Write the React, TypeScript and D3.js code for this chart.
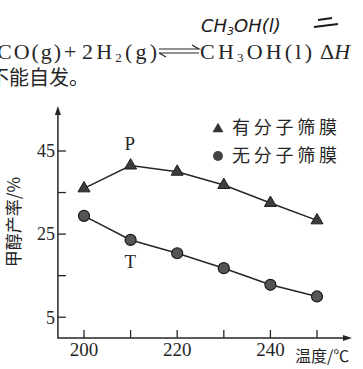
import React from "react";
import * as d3 from "d3";

// 温度 (℃) 与甲醇产率 (%)
const temps = [200, 210, 220, 230, 240, 250];
const withMembrane = [36, 41.5, 40, 36.8, 32.5, 28.3];
const withoutMembrane = [29.4, 23.6, 20.4, 16.8, 12.8, 10];

const yTicks = [5, 15, 25, 35, 45];
const yTickLabels = ["5", "", "25", "", "45"];
const xTickLabels = ["200", "", "220", "", "240", ""];

const legendNames = ["有分子筛膜", "无分子筛膜"];
const yTitle = "甲醇产率/%";
const xTitle = "温度/℃";

const ink = "#262626";
const serif = "'Liberation Serif', 'DejaVu Serif', serif";
const cjk = "'Noto Sans CJK SC', sans-serif";

const App = () => {
  const width = 363;
  const height = 369;

  const x = d3.scaleLinear().domain([200, 250]).range([84, 317]);
  const y = d3.scaleLinear().domain([0, 45]).range([338, 151]);

  const x0 = x(194.4);
  const xEnd = 346;
  const y0 = y(0);
  const yTop = 112;

  const line = d3
    .line<number>()
    .x((_, i) => x(temps[i]))
    .y((d) => y(d));

  const tri = d3.symbol().type(d3.symbolTriangle).size(62);
  const triSmall = d3.symbol().type(d3.symbolTriangle).size(52);

  return (
    <svg
      width={width}
      height={height}
      viewBox={`0 0 ${width} ${height}`}
      style={{ position: "absolute", left: 0, top: 0, background: "#fff" }}
    >
      {/* 题干残文 */}
      <g fill={ink} fontFamily={serif} fontSize={22}>
        <text x={-3} y={59} textLength={64} lengthAdjust="spacing">CO(g)</text>
        <text x={64} y={59}>+</text>
        <text x={82} y={59} textLength={75} lengthAdjust="spacing">
          2H<tspan fontSize={13} dy={3}>2</tspan>
          <tspan dy={-3}>(g)</tspan>
        </text>
        <text x={200} y={59} textLength={112} lengthAdjust="spacing">
          CH<tspan fontSize={13} dy={3}>3</tspan>
          <tspan dy={-3}>OH(l)</tspan>
        </text>
        <text x={320} y={59}>
          Δ<tspan fontStyle="italic">H</tspan>
        </text>
        <text x={-11} y={85} fontFamily={cjk} fontSize={20}>不能自发。</text>
      </g>
      <g stroke={ink} strokeWidth={1.2} fill="none">
        <path d="M159,49 H199 l-7,-4" />
        <path d="M159,53 H199 M159,53 l7,4" />
      </g>
      {/* 手写 */}
      <text
        x={201}
        y={32}
        fill="#1a1a1a"
        fontFamily="'DejaVu Sans', sans-serif"
        fontStyle="italic"
        fontSize={18}
      >
        CH<tspan fontSize={11} dy={3}>3</tspan>
        <tspan dy={-3}>OH(l)</tspan>
      </text>
      <path d="M318,20 l14,-2 M314,27 l24,-3" stroke="#1a1a1a" strokeWidth={2} fill="none" />

      {/* 坐标轴 */}
      <g stroke={ink} strokeWidth={1.5} fill="none">
        <path d={`M${x0},${yTop} V${y0} H${xEnd}`} />
      </g>
      <path d={`M${x0},${yTop - 6} l-3,9 h6 z`} fill={ink} />
      <path d={`M${xEnd + 6},${y0} l-9,-3 v6 z`} fill={ink} />

      {yTicks.map((t, i) => (
        <g key={t}>
          <line x1={x0} x2={x0 + 8} y1={y(t)} y2={y(t)} stroke={ink} strokeWidth={1.3} />
          <text
            x={x0 - 3}
            y={y(t)}
            dy="0.35em"
            textAnchor="end"
            fontFamily={serif}
            fontSize={18}
            fill={ink}
          >
            {yTickLabels[i]}
          </text>
        </g>
      ))}
      {temps.map((t, i) => (
        <g key={t}>
          <line x1={x(t)} x2={x(t)} y1={y0} y2={y0 - 8} stroke={ink} strokeWidth={1.3} />
          <text
            x={x(t)}
            y={y0 + 18}
            textAnchor="middle"
            fontFamily={serif}
            fontSize={19}
            fill={ink}
          >
            {xTickLabels[i]}
          </text>
        </g>
      ))}

      <text
        transform={`translate(20,222) rotate(-90)`}
        textAnchor="middle"
        fontFamily={cjk}
        fontSize={17}
        fill={ink}
      >
        {yTitle}
      </text>
      <text x={295} y={362} fontFamily={cjk} fontSize={16} fill={ink}>
        {xTitle}
      </text>

      {/* 数据线 */}
      <path d={line(withMembrane) ?? ""} fill="none" stroke={ink} strokeWidth={1.5} />
      <path d={line(withoutMembrane) ?? ""} fill="none" stroke={ink} strokeWidth={1.5} />
      {withMembrane.map((v, i) => (
        <path
          key={`a${i}`}
          d={tri() ?? ""}
          transform={`translate(${x(temps[i])},${y(v)})`}
          fill="#3c3c3c"
          stroke="#1a1a1a"
          strokeWidth={1}
        />
      ))}
      {withoutMembrane.map((v, i) => (
        <circle
          key={`b${i}`}
          cx={x(temps[i])}
          cy={y(v)}
          r={5.5}
          fill="#555"
          stroke="#1a1a1a"
          strokeWidth={1.2}
        />
      ))}

      <text x={x(210) - 6} y={y(41.5) - 16} fontFamily={serif} fontSize={19} fill={ink}>P</text>
      <text x={x(210) - 6} y={y(23.6) + 28} fontFamily={serif} fontSize={19} fill={ink}>T</text>

      {/* 图例 */}
      <path d={triSmall() ?? ""} transform="translate(218,129)" fill="#333" />
      <circle cx={218} cy={156} r={5} fill="#444" />
      <g fontFamily={cjk} fontSize={18} fill={ink}>
        <text x={232} y={128} dy="0.36em" textLength={105} lengthAdjust="spacing">{legendNames[0]}</text>
        <text x={232} y={156} dy="0.36em" textLength={105} lengthAdjust="spacing">{legendNames[1]}</text>
      </g>
    </svg>
  );
};

export default App;
